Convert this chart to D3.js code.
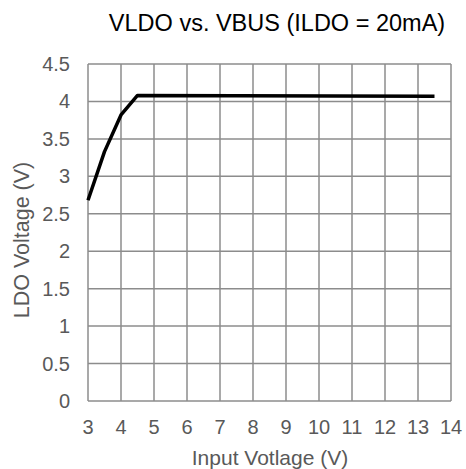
<!DOCTYPE html>
<html>
<head>
<meta charset="utf-8">
<script src="https://cdn.jsdelivr.net/npm/d3@7"></script>
<style>
  body { margin: 0; background: #fff; }
  text { font-family: "Liberation Sans", Arial, sans-serif; }
</style>
</head>
<body>
<svg id="chart" width="466" height="469"></svg>
<script>
// data
var vbus = [3, 3.5, 4, 4.5, 13.5];
var vldo = [2.68, 3.33, 3.82, 4.08, 4.07];
var xTicks = [3, 4, 5, 6, 7, 8, 9, 10, 11, 12, 13, 14];
var yTicks = [0, 0.5, 1, 1.5, 2, 2.5, 3, 3.5, 4, 4.5];

var margin = {top: 64, right: 15, bottom: 68, left: 88},
    width = 466 - margin.left - margin.right,
    height = 469 - margin.top - margin.bottom;

var svg = d3.select("#chart");
var g = svg.append("g")
    .attr("transform", "translate(" + margin.left + "," + margin.top + ")");

var x = d3.scaleLinear().domain([3, 14]).range([0, width]);
var y = d3.scaleLinear().domain([0, 4.5]).range([height, 0]);

// grid
g.selectAll("line.vx")
    .data(xTicks)
    .enter()
    .append("line")
    .attr("x1", function(d) { return x(d); })
    .attr("x2", function(d) { return x(d); })
    .attr("y1", 0)
    .attr("y2", height)
    .attr("stroke", "#8c8c8c")
    .attr("stroke-width", 1.5);

g.selectAll("line.hy")
    .data(yTicks)
    .enter()
    .append("line")
    .attr("x1", 0)
    .attr("x2", width)
    .attr("y1", function(d) { return y(d); })
    .attr("y2", function(d) { return y(d); })
    .attr("stroke", "#8c8c8c")
    .attr("stroke-width", 1.5);

// tick labels
g.selectAll("text.xt")
    .data(xTicks)
    .enter()
    .append("text")
    .attr("x", function(d) { return x(d); })
    .attr("y", height + 33)
    .attr("text-anchor", "middle")
    .attr("font-size", 20)
    .attr("fill", "#595959")
    .text(function(d) { return d; });

g.selectAll("text.yt")
    .data(yTicks)
    .enter()
    .append("text")
    .attr("x", -18)
    .attr("y", function(d) { return y(d) + 7; })
    .attr("text-anchor", "end")
    .attr("font-size", 20)
    .attr("fill", "#595959")
    .text(function(d) { return d; });

// data line
var pts = vbus.map(function(v, i) { return [v, vldo[i]]; });
var line = d3.line()
    .x(function(d) { return x(d[0]); })
    .y(function(d) { return y(d[1]); });

g.append("path")
    .datum(pts)
    .attr("d", line)
    .attr("fill", "none")
    .attr("stroke", "#000")
    .attr("stroke-width", 3.5)
    .attr("stroke-linejoin", "round");

// titles
svg.append("text")
    .attr("x", 277)
    .attr("y", 31)
    .attr("text-anchor", "middle")
    .attr("font-size", 23.5)
    .attr("fill", "#000")
    .text("VLDO vs. VBUS (ILDO = 20mA)");

svg.append("text")
    .attr("x", 270)
    .attr("y", 465)
    .attr("text-anchor", "middle")
    .attr("font-size", 21)
    .attr("fill", "#595959")
    .text("Input Votlage (V)");

svg.append("text")
    .attr("transform", "translate(29,240) rotate(-90)")
    .attr("text-anchor", "middle")
    .attr("font-size", 21.5)
    .attr("fill", "#595959")
    .text("LDO Voltage (V)");
</script>
</body>
</html>
